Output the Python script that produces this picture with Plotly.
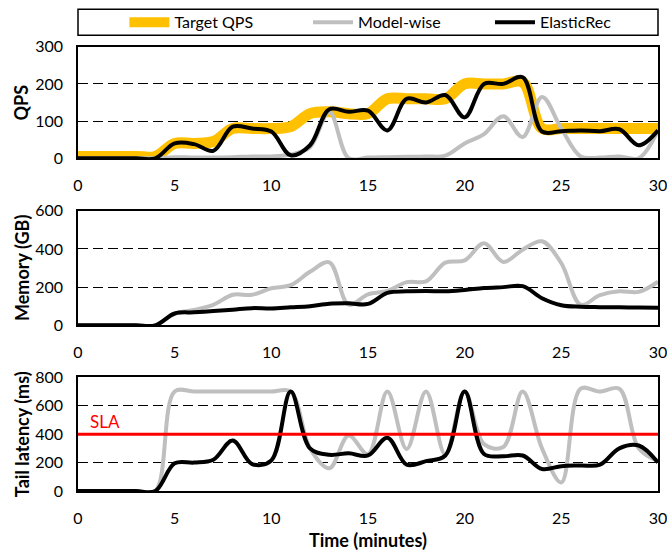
import plotly.graph_objects as go

t = list(range(0, 31))

qps_target = [5, 5, 5, 5, 5, 40, 40, 45, 80, 80, 80, 85, 120, 125, 120, 120, 160, 160, 160, 160,
              200, 200, 200, 205, 80, 80, 80, 80, 80, 80, 80]
qps_model = [0, 0, 0, 0, 0, 3, 2, 2, 3, 5, 5, 10, 30, 125, 0, 2, 3, 4, 5, 7,
             40, 65, 113, 57, 165, 80, 5, 2, 5, 0, 75]
qps_elastic = [0, 0, 0, 0, 0, 40, 38, 20, 85, 80, 72, 8, 35, 132, 125, 128, 75, 160, 150, 170,
               110, 200, 200, 218, 72, 73, 75, 73, 78, 35, 75]

mem_model = [0, 0, 0, 0, 0, 60, 80, 107, 160, 160, 194, 210, 280, 330, 108, 162, 180, 226, 230, 328,
             340, 430, 332, 396, 440, 325, 108, 158, 178, 175, 228]
mem_elastic = [0, 0, 0, 0, 0, 62, 68, 75, 82, 90, 88, 94, 100, 113, 115, 112, 170, 178, 180, 178,
               185, 195, 200, 205, 142, 105, 97, 95, 94, 93, 92]

lat_model = [0, 0, 0, 0, 0, 700, 700, 700, 700, 700, 700, 700, 300, 160, 390, 260, 700, 295, 700, 255,
             700, 330, 310, 700, 300, 60, 720, 700, 720, 300, 210]
lat_elastic = [0, 0, 0, 0, 0, 195, 200, 220, 355, 190, 215, 700, 300, 255, 265, 250, 375, 185, 210, 250,
               700, 260, 245, 250, 155, 175, 180, 185, 300, 320, 200]

sla_value = 400
sla_label = "SLA"

x_ticks = [0, 5, 10, 15, 20, 25, 30]
qps_ticks = [0, 100, 200, 300]
mem_ticks = [0, 200, 400, 600]
lat_ticks = [0, 200, 400, 600, 800]

YELLOW = "#FFC000"
GRAY = "#BFBFBF"
BLACK = "#000000"
FONT = "Lato"

fig = go.Figure()

def add(x, y, name, color, width, axis, legend=None):
    fig.add_trace(go.Scatter(
        x=x, y=y, name=name, mode="lines",
        line=dict(color=color, width=width, shape="spline", smoothing=1),
        xaxis="x" + axis, yaxis="y" + axis,
        showlegend=legend is not None, legend=legend or "legend",
    ))

add(t, qps_target, "Target QPS", YELLOW, 11, "", "legend")
add(t, qps_model, "Model-wise", GRAY, 4, "", "legend2")
add(t, qps_elastic, "ElasticRec", BLACK, 4, "", "legend3")
add(t, mem_model, "Model-wise", GRAY, 4, "2")
add(t, mem_elastic, "ElasticRec", BLACK, 4, "2")
add(t, lat_model, "Model-wise", GRAY, 4, "3")
add(t, lat_elastic, "ElasticRec", BLACK, 4, "3")

# SLA line
fig.add_trace(go.Scatter(x=[t[0], t[-1]], y=[sla_value, sla_value], mode="lines",
                         line=dict(color="#FF0000", width=3), xaxis="x3", yaxis="y3",
                         showlegend=False))
fig.add_annotation(x=0.5, y=487, xref="x3", yref="y3", text=sla_label,
                   showarrow=False, xanchor="left", yanchor="middle",
                   font=dict(color="#FF0000", size=17, family=FONT))

TICKFONT = dict(size=16, family=FONT, color="black")

def xax(anchor):
    return dict(range=[0, 30], tickvals=x_ticks, anchor=anchor, showgrid=False,
                zeroline=False, showline=True, linecolor="black", linewidth=1.5,
                mirror=True, ticks="", ticklabelstandoff=12, automargin=False,
                ticklabeloverflow="allow", tickfont=TICKFONT)

def yax(anchor, domain, rng, ticks):
    return dict(domain=domain, range=rng, tickvals=ticks, anchor=anchor,
                showgrid=True, gridcolor="black", griddash="10px,5px", gridwidth=1,
                zeroline=False, showline=True, linecolor="black", linewidth=1.5,
                mirror=True, ticks="", ticklabelstandoff=10, automargin=False,
                ticklabeloverflow="allow", tickfont=TICKFONT)

D1 = [0.6846, 0.9142]
D2 = [0.3409, 0.5767]
D3 = [0.0, 0.2339]

fig.update_layout(
    width=667, height=550,
    margin=dict(l=78, r=9, t=5, b=59),
    paper_bgcolor="white", plot_bgcolor="white",
    font=dict(family=FONT, color="black"),
    xaxis=xax("y"),
    xaxis2=xax("y2"),
    xaxis3=xax("y3"),
    yaxis=yax("x", D1, [0, 300], qps_ticks),
    yaxis2=yax("x2", D2, [0, 600], mem_ticks),
    yaxis3=yax("x3", D3, [0, 800], lat_ticks),
    shapes=[dict(type="rect", xref="paper", yref="paper", x0=0, x1=1, y0=0.9377, y1=0.9912,
                 line=dict(color="black", width=1.5), fillcolor="rgba(0,0,0,0)")],
)

legend_common = dict(orientation="h", xanchor="left", y=0.9644, yanchor="middle",
                     font=dict(size=16, family=FONT, color="black"),
                     bgcolor="rgba(0,0,0,0)", itemwidth=40)
fig.update_layout(
    legend=dict(legend_common, x=0.080),
    legend2=dict(legend_common, x=0.3966),
    legend3=dict(legend_common, x=0.7103),
)

TITLEFONT = dict(size=18, family=FONT, color="black")
for dom, txt in [(D1, "QPS"), (D2, "Memory (GB)"), (D3, "Tail latency (ms)")]:
    fig.add_annotation(x=-0.0966, y=(dom[0] + dom[1]) / 2, xref="paper", yref="paper",
                       text="<b>" + txt + "</b>", textangle=-90, showarrow=False,
                       xanchor="center", yanchor="middle", font=TITLEFONT)
fig.add_annotation(x=0.5, y=-0.1008, xref="paper", yref="paper",
                   text="<b>Time (minutes)</b>", showarrow=False,
                   xanchor="center", yanchor="middle", font=TITLEFONT)

fig.write_html("out.html", config={"displayModeBar": False},
               post_script="document.body.style.margin='0';document.body.style.padding='0';")
